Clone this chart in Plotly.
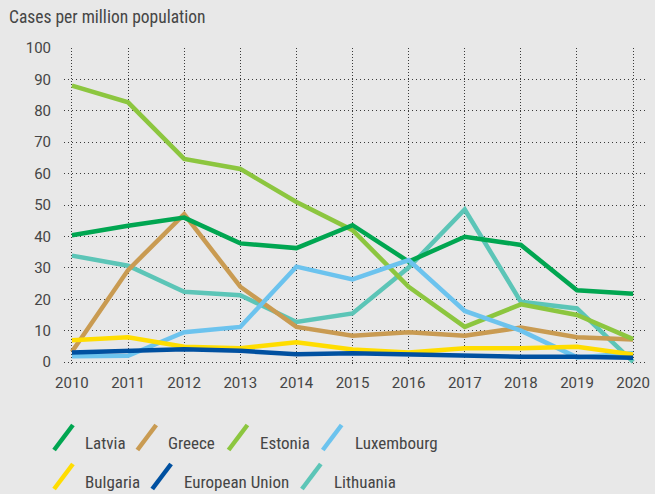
import plotly.graph_objects as go

years = [2010, 2011, 2012, 2013, 2014, 2015, 2016, 2017, 2018, 2019, 2020]

latvia = [40.4, 43.4, 46.0, 37.8, 36.3, 43.6, 32.0, 39.9, 37.3, 22.9, 21.8]
greece = [3.3, 29.3, 47.1, 24.0, 11.2, 8.4, 9.5, 8.4, 11.0, 7.9, 7.2]
estonia = [88.0, 82.7, 64.7, 61.5, 51.0, 42.0, 24.0, 11.2, 18.4, 15.0, 7.3]
luxembourg = [1.9, 2.0, 9.5, 11.2, 30.4, 26.3, 32.5, 16.3, 10.0, 1.5, 2.8]
bulgaria = [7.0, 7.9, 4.9, 4.4, 6.3, 4.0, 3.1, 4.4, 4.4, 4.9, 2.4]
european_union = [3.1, 3.5, 4.1, 3.6, 2.5, 2.8, 2.4, 2.2, 1.7, 1.7, 1.4]
lithuania = [33.9, 30.7, 22.4, 21.3, 12.8, 15.5, 30.1, 48.6, 19.2, 17.1, 0.1]

y_ticks = [0, 10, 20, 30, 40, 50, 60, 70, 80, 90, 100]
title_text = "Cases per million population"

series = {
    "Latvia": (latvia, "#00a651"),
    "Greece": (greece, "#c99b52"),
    "Estonia": (estonia, "#8cc63f"),
    "Luxembourg": (luxembourg, "#6cc3ee"),
    "Bulgaria": (bulgaria, "#ffdd00"),
    "European Union": (european_union, "#0050a0"),
    "Lithuania": (lithuania, "#5cc5b7"),
}
draw_order = ["Lithuania", "Greece", "Estonia", "Latvia", "Luxembourg", "Bulgaria", "European Union"]

W, H = 655, 494
ML, MR, MT = 64, 5, 48
MB = H - 364
PW = W - ML - MR
PH = H - MT - MB

fig = go.Figure()
for name in draw_order:
    vals, col = series[name]
    fig.add_trace(go.Scatter(x=years, y=vals, mode="lines", name=name,
                             line=dict(color=col, width=4.5), showlegend=False))

txt = "#454545"
grid = "#3a3a3a"
narrow = "Liberation Sans Narrow, Roboto Condensed, Roboto, sans-serif"

def px_to_paper(px, py):
    return (px - ML) / PW, (H - MB - py) / PH

legend_items = [
    ("Latvia", 54, 83, 1), ("Greece", 138, 167, 1), ("Estonia", 230, 260, 1), ("Luxembourg", 325, 355, 1),
    ("Bulgaria", 54, 83, 2), ("European Union", 153, 183, 2), ("Lithuania", 304, 334, 2),
]
row_y = {1: (450, 425, 443), 2: (489, 464, 482)}
shapes = []
annotations = []
for name, sx, tx, row in legend_items:
    yb, yt, yc = row_y[row]
    x0, y0 = px_to_paper(sx, yb)
    x1, y1 = px_to_paper(sx + 19, yt)
    shapes.append(dict(type="line", xref="paper", yref="paper", x0=x0, y0=y0, x1=x1, y1=y1,
                       line=dict(color=series[name][1], width=4.5)))
    ax, ay = px_to_paper(tx, yc)
    annotations.append(dict(text=name, xref="paper", yref="paper", x=ax, y=ay,
                            xanchor="left", yanchor="middle", showarrow=False,
                            font=dict(size=17, color=txt, family=narrow)))

tx, ty = px_to_paper(7, 17)
annotations.append(dict(text=title_text, xref="paper", yref="paper", x=tx, y=ty,
                        xanchor="left", yanchor="middle", showarrow=False,
                        font=dict(size=17.5, color=txt, family=narrow)))

fig.update_layout(
    width=W, height=H,
    margin=dict(l=ML, r=MR, t=MT, b=MB, pad=0),
    paper_bgcolor="#e8e8e8", plot_bgcolor="#e8e8e8",
    font=dict(family="Roboto, sans-serif", size=15, color=txt),
    shapes=shapes, annotations=annotations,
)
fig.update_xaxes(range=[2010 - 8 / 56.6, 2020 + 12 / 56.6], tickvals=years,
                 ticktext=[str(y) for y in years],
                 showgrid=True, gridcolor=grid, griddash="1px,2px", gridwidth=1,
                 zeroline=False, showline=False, ticks="", ticklabelstandoff=8)
fig.update_yaxes(range=[-0.6, 100], tickvals=y_ticks,
                 showgrid=True, gridcolor=grid, griddash="1px,3px", gridwidth=1,
                 zeroline=False, showline=False, ticks="", ticklabelstandoff=12)

fig.write_html("out.html", config={"displayModeBar": False},
               post_script="document.body.style.margin='0';document.body.style.background='#e8e8e8';")
